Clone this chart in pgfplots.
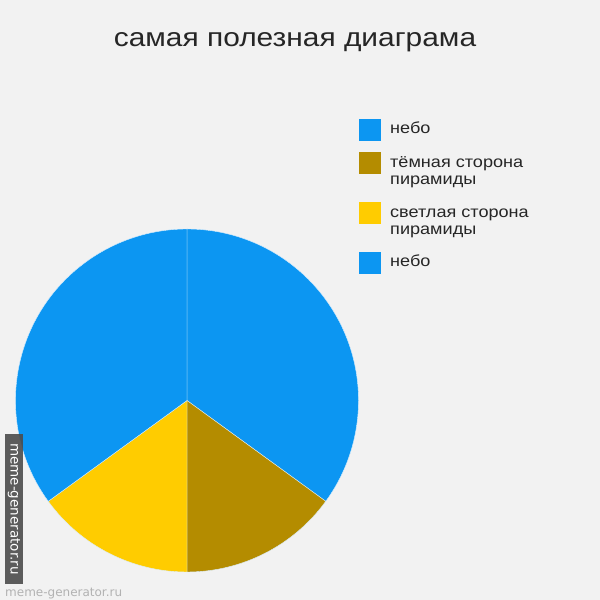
\documentclass[border=0pt]{standalone}
\usepackage{pgfplots}
\pgfplotsset{compat=1.18}
\usepackage{pgfplotstable}
\usepackage{fontspec}
\setmainfont{Liberation Sans}
\newfontfamily\titlefont[FakeStretch=1.15]{Liberation Sans}
\newfontfamily\legfont[FakeStretch=1.13]{Liberation Sans}
\newfontfamily\wmfont{DejaVu Sans}
\definecolor{bg}{HTML}{F2F2F2}
\definecolor{sky}{RGB}{12,150,242}
\definecolor{darkgold}{RGB}{180,140,0}
\definecolor{sunyellow}{RGB}{255,204,0}

\pgfplotstableread{
value color
35 sky
15 darkgold
15 sunyellow
35 sky
}\piedata

% cumulative angles (clockwise from the top)
\def\curangle{90}
\foreach \i in {0,...,3}{%
  \pgfplotstablegetelem{\i}{value}\of\piedata
  \pgfmathsetmacro{\endangle}{\curangle-3.6*\pgfplotsretval}%
  \expandafter\xdef\csname pieS\i\endcsname{\curangle}%
  \expandafter\xdef\csname pieE\i\endcsname{\endangle}%
  \pgfplotstablegetelem{\i}{color}\of\piedata
  \expandafter\xdef\csname pieC\i\endcsname{\pgfplotsretval}%
  \global\let\curangle\endangle
}

\begin{document}
\begin{tikzpicture}[x=1pt,y=1pt]
\fill[bg] (0,0) rectangle (600,600);
\useasboundingbox (0,0) rectangle (600,600);
\node[anchor=base, font=\titlefont\fontsize{26}{30}\selectfont, text=black!85] at (295,553.3) {самая полезная диаграма};
\begin{axis}[
  at={(187pt,199.5pt)}, anchor=origin,
  x=171.5pt, y=171.5pt,
  xmin=-1, xmax=1, ymin=-1, ymax=1,
  hide axis, clip=false,
]
\foreach \i in {0,...,3}{
  \edef\cmd{\noexpand\fill[fill=\csname pieC\i\endcsname, draw=white!85!sky, line width=0.4pt]
    (axis cs:0,0) -- (axis cs:{cos(\csname pieS\i\endcsname)},{sin(\csname pieS\i\endcsname)})
    arc[start angle=\csname pieS\i\endcsname, end angle=\csname pieE\i\endcsname, radius=171.5pt] -- cycle;}
  \cmd
}
\end{axis}
% legend
\begin{scope}[font=\legfont\fontsize{16}{17}\selectfont, text=black!85]
\fill[sky] (359,481) rectangle (381,459);
\node[anchor=base west, inner sep=0pt] at (390,466) {небо};
\fill[darkgold] (359,448) rectangle (381,426);
\node[anchor=base west, inner sep=0pt] at (390,432) {тёмная сторона};
\node[anchor=base west, inner sep=0pt] at (390,415) {пирамиды};
\fill[sunyellow] (359,398) rectangle (381,376);
\node[anchor=base west, inner sep=0pt] at (390,382) {светлая сторона};
\node[anchor=base west, inner sep=0pt] at (390,365) {пирамиды};
\fill[sky] (359,348) rectangle (381,326);
\node[anchor=base west, inner sep=0pt] at (390,333) {небо};
\end{scope}
% watermark
\fill[black!70, opacity=0.9] (5,166) rectangle (23,16);
\node[rotate=-90, text=white, font=\wmfont\fontsize{13.5}{13.5}\selectfont, inner sep=0pt] at (14,91) {meme-generator.ru};
\node[anchor=base west, text=black!30, font=\wmfont\fontsize{12}{12}\selectfont, inner sep=0pt] at (5,3.2) {meme-generator.ru};
\end{tikzpicture}
\end{document}
